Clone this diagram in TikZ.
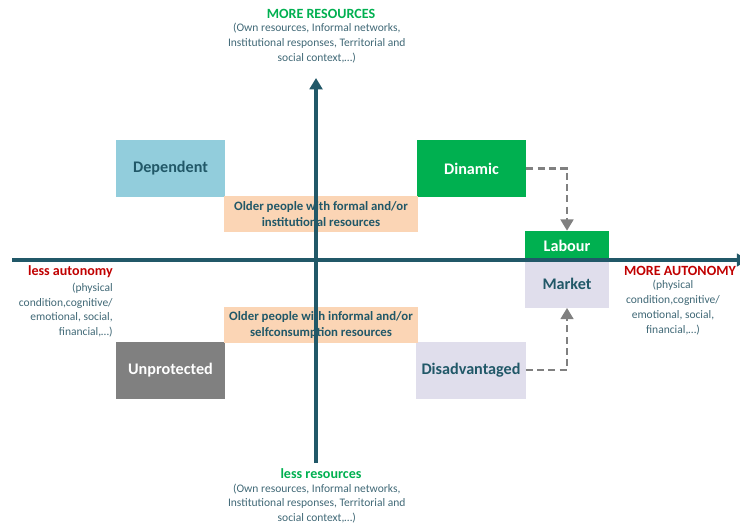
\documentclass[tikz,border=0pt]{standalone}
\usepackage{fontspec}
\setmainfont{Carlito}
\usetikzlibrary{positioning, arrows.meta}

\definecolor{axisteal}{RGB}{33,88,104}
\definecolor{softteal}{RGB}{64,104,118}
\definecolor{quadgreen}{RGB}{0,176,80}
\definecolor{quadred}{RGB}{192,0,0}
\definecolor{quadblue}{RGB}{146,205,220}
\definecolor{quadpeach}{RGB}{251,213,181}
\definecolor{quadlilac}{RGB}{224,222,236}
\definecolor{quadgray}{RGB}{128,128,128}

\begin{document}
\begin{tikzpicture}[x=0.025cm, y=-0.025cm,
        quad/.style={minimum width=2.725cm, minimum height=1.425cm, inner sep=0pt, font=\fontsize{11.5}{13}\selectfont\bfseries},
        pair/.style={minimum width=2.1cm, inner sep=0pt, font=\fontsize{11.5}{13}\selectfont\bfseries},
        band/.style={fill=quadpeach, text=axisteal, minimum width=4.85cm, minimum height=0.9cm, inner sep=0pt, align=center, font=\fontsize{9.1}{12}\selectfont\bfseries},
        title/.style={inner sep=0pt, font=\fontsize{10}{12}\selectfont\bfseries},
        note/.style={inner sep=0pt, text=softteal, font=\fontsize{8.2}{10.5}\selectfont},
        flow/.style={draw=quadgray, line width=1.9pt, dash pattern=on 5pt off 3pt, -{Triangle[width=9pt,length=8pt]}},
        axis/.style={draw=axisteal, line width=2.7pt, -{Triangle[width=9pt,length=8pt]}}]
        \clip (0,0) rectangle (740,529);

        % Quadrant boxes
        \node[quad, fill=quadblue, text=axisteal] (dep) at (170.5,168.5) {Dependent};
        \node[quad, fill=quadgreen, text=white] (din) at (471.5,168.5) {Dinamic};
        \node[quad, fill=quadgray, text=white] (unprot) at (170.5,370) {Unprotected};
        \node[quad, fill=quadlilac, text=axisteal] (disadv) at (471,370) {Disadvantaged};

        % Resource bands
        \node[band] (formal) at (321,214) {Older people with formal and/or\\institutional resources};
        \node[band] (informal) at (321,325) {Older people with informal and/or\\selfconsumption resources};

        % Labour market
        \node[pair, fill=quadgreen, text=white, minimum height=0.725cm] (labour) at (567,245.5) {Labour};
        \node[pair, fill=quadlilac, text=axisteal, minimum height=1.175cm, below=0pt of labour] (market) {Market};

        % Axes
        \coordinate (autlow) at (12,260);
        \coordinate (authigh) at (748,260);
        \coordinate (reslow) at (316,463);
        \coordinate (reshigh) at (316,78);
        \draw[axis] (autlow) -- (authigh);
        \draw[axis] (reslow) -- (reshigh);

        % Paths into the labour market
        \draw[flow] (din.east) -| (labour.north);
        \draw[flow] (disadv.east) -| (market.south);

        % Axis labels
        \node[title, text=quadgreen] (moreres) at (321,14) {MORE RESOURCES};
        \node[note, align=center, below=3pt of moreres, xshift=-3pt] (moreresnote) {(Own resources, Informal networks,\\Institutional responses, Territorial and\\social context,…)};
        \node[title, text=quadgreen] (lessres) at (321,474) {less resources};
        \node[note, align=center, below=3pt of lessres, xshift=-3pt] (lessresnote) {(Own resources, Informal networks,\\Institutional responses, Territorial and\\social context,…)};
        \node[title, text=quadred, anchor=east] (lessaut) at (113,272) {less autonomy};
        \node[note, align=right, below=3pt of lessaut.south east, anchor=north east] (lessautnote) {(physical\\condition,cognitive/\\emotional, social,\\financial,…)};
        \node[title, text=quadred] (moreaut) at (680,271) {MORE AUTONOMY};
        \node[note, align=center, below=3pt of moreaut, xshift=-5pt] (moreautnote) {(physical\\condition,cognitive/\\emotional, social,\\financial,…)};
\end{tikzpicture}
\end{document}
